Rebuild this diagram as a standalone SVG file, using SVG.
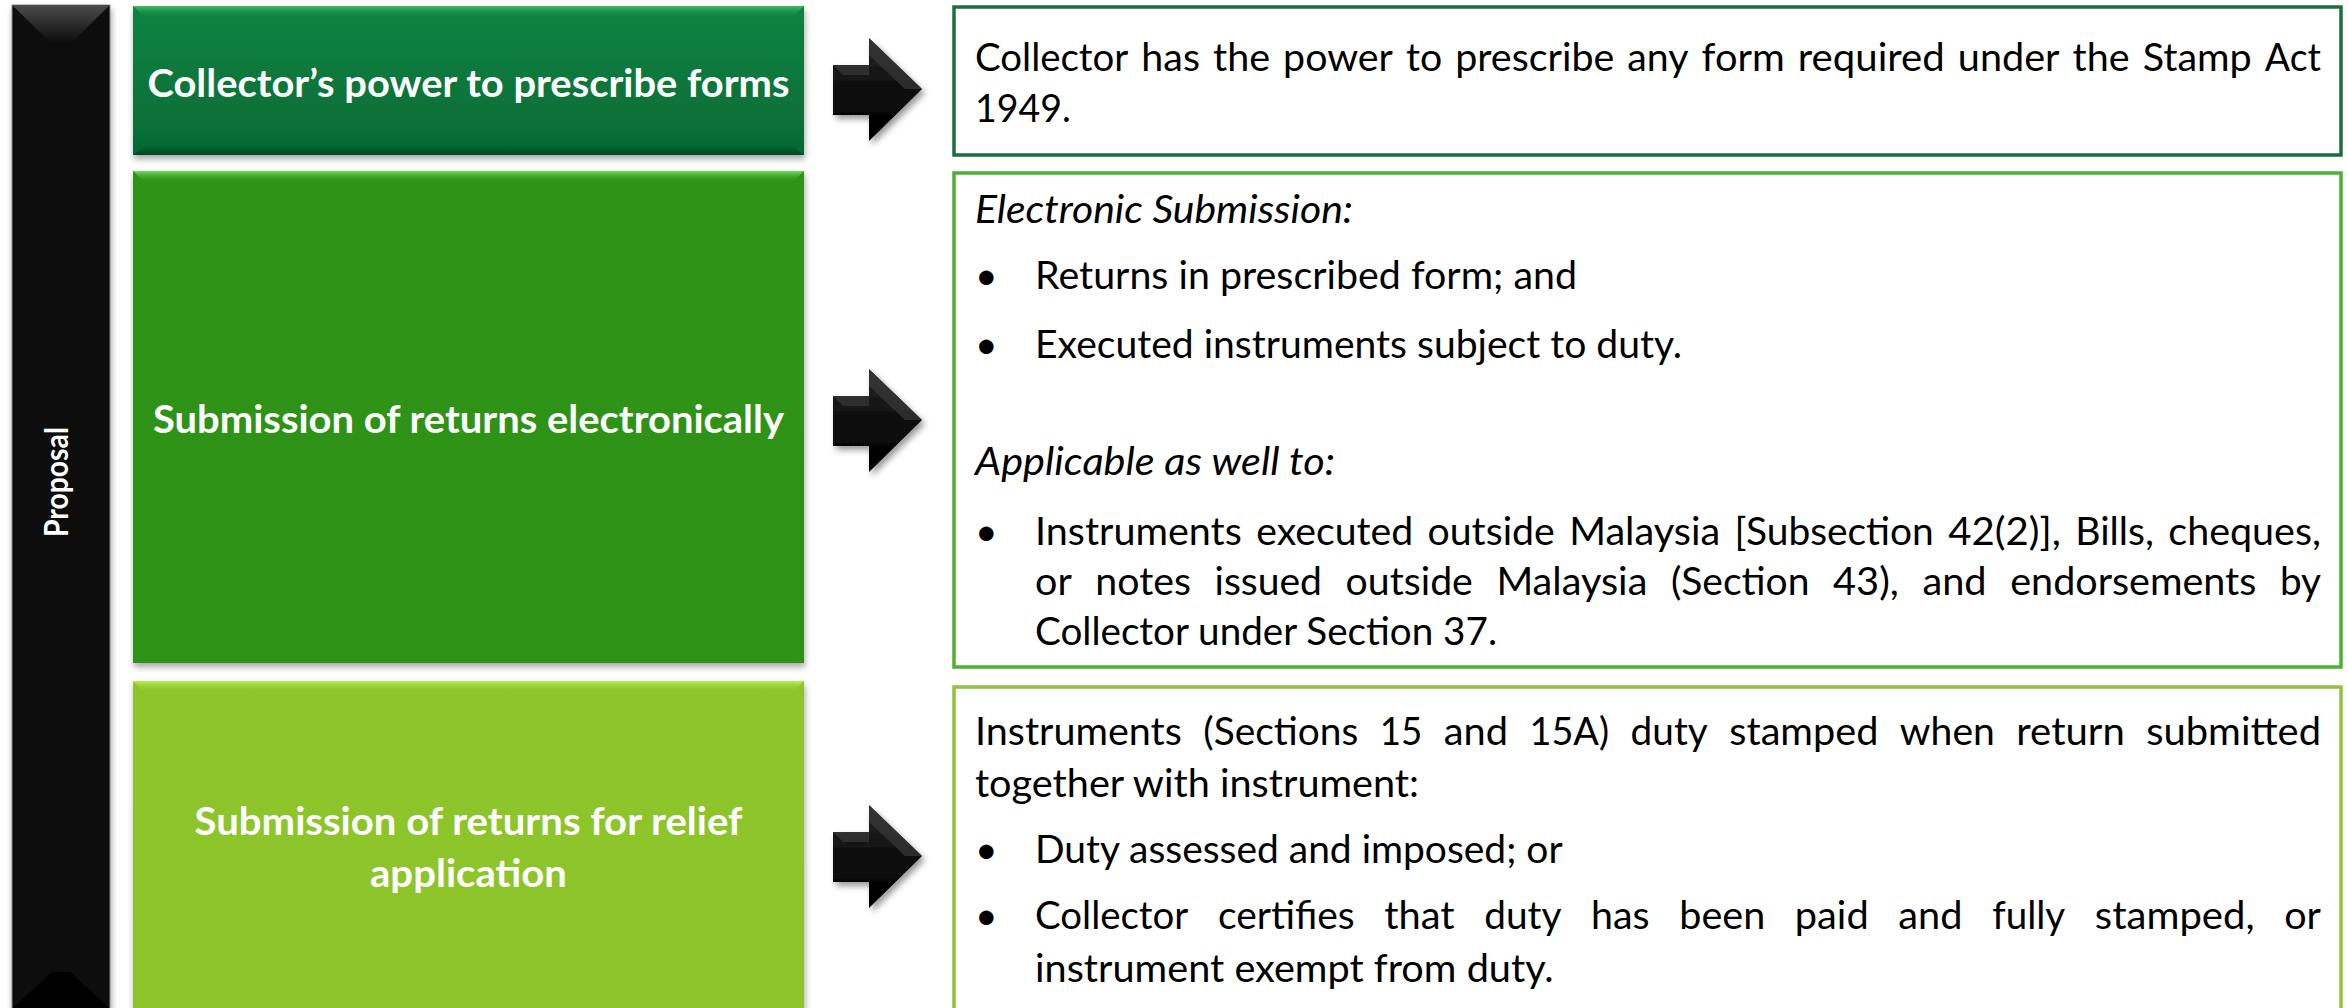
<svg xmlns="http://www.w3.org/2000/svg" width="2348" height="1008" viewBox="0 0 2348 1008">
<defs>
<linearGradient id="g1" x1="0" y1="0" x2="0" y2="1"><stop offset="0" stop-color="#0a8442"/><stop offset="1" stop-color="#066a35"/></linearGradient>
<linearGradient id="g2" x1="0" y1="0" x2="0" y2="1"><stop offset="0" stop-color="#2f9317"/><stop offset="1" stop-color="#2e9216"/></linearGradient>
<linearGradient id="g3" x1="0" y1="0" x2="0" y2="1"><stop offset="0" stop-color="#8ec52c"/><stop offset="1" stop-color="#8cc42a"/></linearGradient>
<linearGradient id="hl1" x1="0" y1="0" x2="0" y2="1"><stop offset="0" stop-color="#3fbf6a"/><stop offset="1" stop-color="#0a8442" stop-opacity="0"/></linearGradient>
<linearGradient id="hl2" x1="0" y1="0" x2="0" y2="1"><stop offset="0" stop-color="#6fe05a"/><stop offset="1" stop-color="#2f9317" stop-opacity="0"/></linearGradient>
<linearGradient id="hl3" x1="0" y1="0" x2="0" y2="1"><stop offset="0" stop-color="#b8ec5a"/><stop offset="1" stop-color="#8ec52c" stop-opacity="0"/></linearGradient>
<linearGradient id="dk" x1="0" y1="0" x2="0" y2="1"><stop offset="0" stop-color="#000" stop-opacity="0"/><stop offset="1" stop-color="#000" stop-opacity="0.35"/></linearGradient>
<linearGradient id="barTop" x1="0" y1="0" x2="0" y2="1"><stop offset="0" stop-color="#4a4a4a"/><stop offset="1" stop-color="#0a0a0a"/></linearGradient>
<linearGradient id="arr" x1="0" y1="0" x2="0" y2="1"><stop offset="0" stop-color="#2a2a2a"/><stop offset="0.5" stop-color="#0c0c0c"/><stop offset="1" stop-color="#000"/></linearGradient>
<filter id="sh" x="-10%" y="-10%" width="120%" height="130%"><feDropShadow dx="1" dy="4" stdDeviation="3" flood-color="#000" flood-opacity="0.35"/></filter>
<filter id="ash" x="-20%" y="-20%" width="150%" height="150%"><feDropShadow dx="3" dy="4" stdDeviation="3" flood-color="#000" flood-opacity="0.4"/></filter>
<path id="arrowShape" d="M0,-24 L36,-24 L36,-51 L89,0 L36,52 L36,26 L0,26 Z"/>
</defs>
<style>
.hd{font-family:Lato,"Open Sans","Liberation Sans",sans-serif;font-weight:bold;font-size:39px;fill:#fff;text-anchor:middle}
.tx{font-family:Lato,"Open Sans","Liberation Sans",sans-serif;font-size:39px;fill:#000}
.it{font-style:italic}
.ob{fill:#fff;stroke-width:3.5}
</style>
<rect width="2348" height="1008" fill="#fff"/>

<g id="proposal-bar">
<rect x="12" y="5" width="98" height="1020" fill="#090909" stroke="#8a8a8a" stroke-width="1" filter="url(#sh)"/>
<polygon points="13,6 109,6 70,44 52,44" fill="url(#barTop)"/>
<polygon points="52,972 70,972 109,1008 13,1008" fill="#000"/>
<text class="hd" transform="translate(68,482) rotate(-90)" style="font-size:33px" textLength="110" lengthAdjust="spacingAndGlyphs">Proposal</text>
</g>

<g id="node-forms">
<rect x="133" y="6" width="671" height="149" fill="url(#g1)" filter="url(#sh)"/>
<polygon points="133,6 804,6 792,18 145,18" fill="url(#hl1)"/>
<polygon points="133,155 804,155 792,145 145,145" fill="url(#dk)"/>
<text class="hd" x="468.5" y="96.7" textLength="642" lengthAdjust="spacingAndGlyphs">Collector’s power to prescribe forms</text>
</g>

<g id="node-electronic">
<rect x="133" y="171" width="671" height="492" fill="url(#g2)" filter="url(#sh)"/>
<polygon points="133,171 804,171 792,183 145,183" fill="url(#hl2)"/>
<text class="hd" x="468.5" y="433.3" textLength="631" lengthAdjust="spacingAndGlyphs">Submission of returns electronically</text>
</g>

<g id="node-relief">
<rect x="133" y="681" width="671" height="340" fill="url(#g3)" filter="url(#sh)"/>
<polygon points="133,681 804,681 792,693 145,693" fill="url(#hl3)"/>
<text class="hd" x="468.5" y="835" textLength="548" lengthAdjust="spacingAndGlyphs">Submission of returns for relief</text>
<text class="hd" x="468.5" y="887" textLength="197" lengthAdjust="spacingAndGlyphs">application</text>
</g>

<g id="connectors">
<g filter="url(#ash)">
<use href="#arrowShape" transform="translate(833,89)" fill="url(#arr)"/>
<use href="#arrowShape" transform="translate(833,420)" fill="url(#arr)"/>
<use href="#arrowShape" transform="translate(833,856)" fill="url(#arr)"/>
</g>
<g fill="#3a3a3a" opacity="0.7">
<polygon points="869,38 922,89 905,89 869,55"/>
<polygon points="869,369 922,420 905,420 869,386"/>
<polygon points="869,805 922,856 905,856 869,822"/>
<polygon points="833,65 869,65 869,75 843,75"/>
<polygon points="833,396 869,396 869,406 843,406"/>
<polygon points="833,832 869,832 869,842 843,842"/>
</g>
</g>

<g id="detail-forms">
<rect class="ob" x="954" y="7" width="1387" height="148" stroke="#1a6f3d"/>
<g class="tx">
<text x="975" y="71" textLength="153.3" lengthAdjust="spacingAndGlyphs">Collector</text>
<text x="1141.36" y="71" textLength="58.59" lengthAdjust="spacingAndGlyphs">has</text>
<text x="1213.02" y="71" textLength="57.04" lengthAdjust="spacingAndGlyphs">the</text>
<text x="1283.12" y="71" textLength="109.79" lengthAdjust="spacingAndGlyphs">power</text>
<text x="1405.97" y="71" textLength="36.2" lengthAdjust="spacingAndGlyphs">to</text>
<text x="1455.24" y="71" textLength="159.05" lengthAdjust="spacingAndGlyphs">prescribe</text>
<text x="1627.35" y="71" textLength="61.19" lengthAdjust="spacingAndGlyphs">any</text>
<text x="1701.62" y="71" textLength="83.16" lengthAdjust="spacingAndGlyphs">form</text>
<text x="1797.84" y="71" textLength="146.92" lengthAdjust="spacingAndGlyphs">required</text>
<text x="1957.82" y="71" textLength="101.72" lengthAdjust="spacingAndGlyphs">under</text>
<text x="2072.61" y="71" textLength="57.04" lengthAdjust="spacingAndGlyphs">the</text>
<text x="2142.7" y="71" textLength="109.07" lengthAdjust="spacingAndGlyphs">Stamp</text>
<text x="2264.85" y="71" textLength="56.15" lengthAdjust="spacingAndGlyphs">Act</text>
<text x="975" y="121.7" textLength="95.8" lengthAdjust="spacingAndGlyphs">1949.</text>
</g>
</g>

<g id="detail-electronic">
<rect class="ob" x="954" y="173" width="1387" height="494" stroke="#4cb133"/>
<g class="tx">
<text class="it" x="975" y="222.7" textLength="378" lengthAdjust="spacingAndGlyphs">Electronic Submission:</text>
<text x="975" y="289.3">•</text>
<text x="1035" y="289.3" textLength="542" lengthAdjust="spacingAndGlyphs">Returns in prescribed form; and</text>
<text x="975" y="358.3">•</text>
<text x="1035" y="358.3" textLength="647" lengthAdjust="spacingAndGlyphs">Executed instruments subject to duty.</text>
<text class="it" x="975" y="475" textLength="360" lengthAdjust="spacingAndGlyphs">Applicable as well to:</text>
<text x="975" y="545">•</text>
<text x="1035" y="545" textLength="206.85" lengthAdjust="spacingAndGlyphs">Instruments</text>
<text x="1256.25" y="545" textLength="156.87" lengthAdjust="spacingAndGlyphs">executed</text>
<text x="1427.52" y="545" textLength="127.26" lengthAdjust="spacingAndGlyphs">outside</text>
<text x="1569.18" y="545" textLength="150.95" lengthAdjust="spacingAndGlyphs">Malaysia</text>
<text x="1734.53" y="545" textLength="199.25" lengthAdjust="spacingAndGlyphs">[Subsection</text>
<text x="1948.18" y="545" textLength="112.73" lengthAdjust="spacingAndGlyphs">42(2)],</text>
<text x="2075.3" y="545" textLength="78.62" lengthAdjust="spacingAndGlyphs">Bills,</text>
<text x="2168.33" y="545" textLength="152.67" lengthAdjust="spacingAndGlyphs">cheques,</text>
<text x="1035" y="595" textLength="36.79" lengthAdjust="spacingAndGlyphs">or</text>
<text x="1095.36" y="595" textLength="95.59" lengthAdjust="spacingAndGlyphs">notes</text>
<text x="1214.52" y="595" textLength="107.48" lengthAdjust="spacingAndGlyphs">issued</text>
<text x="1345.57" y="595" textLength="127.26" lengthAdjust="spacingAndGlyphs">outside</text>
<text x="1496.4" y="595" textLength="150.95" lengthAdjust="spacingAndGlyphs">Malaysia</text>
<text x="1670.92" y="595" textLength="138.56" lengthAdjust="spacingAndGlyphs">(Section</text>
<text x="1833.05" y="595" textLength="65.81" lengthAdjust="spacingAndGlyphs">43),</text>
<text x="1922.43" y="595" textLength="64.22" lengthAdjust="spacingAndGlyphs">and</text>
<text x="2010.22" y="595" textLength="246.16" lengthAdjust="spacingAndGlyphs">endorsements</text>
<text x="2279.95" y="595" textLength="41.08" lengthAdjust="spacingAndGlyphs">by</text>
<text x="1035" y="645" textLength="462" lengthAdjust="spacingAndGlyphs">Collector under Section 37.</text>
</g>
</g>

<g id="detail-relief">
<rect class="ob" x="954" y="687" width="1387" height="340" stroke="#8cc43a"/>
<g class="tx">
<text x="975" y="745" textLength="206.85" lengthAdjust="spacingAndGlyphs">Instruments</text>
<text x="1203.31" y="745" textLength="154.98" lengthAdjust="spacingAndGlyphs">(Sections</text>
<text x="1379.75" y="745" textLength="42.59" lengthAdjust="spacingAndGlyphs">15</text>
<text x="1443.8" y="745" textLength="64.22" lengthAdjust="spacingAndGlyphs">and</text>
<text x="1529.48" y="745" textLength="79.63" lengthAdjust="spacingAndGlyphs">15A)</text>
<text x="1630.57" y="745" textLength="77.2" lengthAdjust="spacingAndGlyphs">duty</text>
<text x="1729.22" y="745" textLength="149.18" lengthAdjust="spacingAndGlyphs">stamped</text>
<text x="1899.87" y="745" textLength="95.05" lengthAdjust="spacingAndGlyphs">when</text>
<text x="2016.37" y="745" textLength="108.4" lengthAdjust="spacingAndGlyphs">return</text>
<text x="2146.24" y="745" textLength="174.8" lengthAdjust="spacingAndGlyphs">submitted</text>
<text x="975" y="796.7" textLength="444" lengthAdjust="spacingAndGlyphs">together with instrument:</text>
<text x="975" y="862.7">•</text>
<text x="1035" y="862.7" textLength="527.6" lengthAdjust="spacingAndGlyphs">Duty assessed and imposed; or</text>
<text x="975" y="929.3">•</text>
<text x="1035" y="929.3" textLength="153.3" lengthAdjust="spacingAndGlyphs">Collector</text>
<text x="1217.92" y="929.3" textLength="136.79" lengthAdjust="spacingAndGlyphs">certifies</text>
<text x="1384.33" y="929.3" textLength="70.31" lengthAdjust="spacingAndGlyphs">that</text>
<text x="1484.26" y="929.3" textLength="77.2" lengthAdjust="spacingAndGlyphs">duty</text>
<text x="1591.08" y="929.3" textLength="58.59" lengthAdjust="spacingAndGlyphs">has</text>
<text x="1679.29" y="929.3" textLength="85.93" lengthAdjust="spacingAndGlyphs">been</text>
<text x="1794.84" y="929.3" textLength="73.84" lengthAdjust="spacingAndGlyphs">paid</text>
<text x="1898.3" y="929.3" textLength="64.22" lengthAdjust="spacingAndGlyphs">and</text>
<text x="1992.13" y="929.3" textLength="73.12" lengthAdjust="spacingAndGlyphs">fully</text>
<text x="2094.88" y="929.3" textLength="159.68" lengthAdjust="spacingAndGlyphs">stamped,</text>
<text x="2284.18" y="929.3" textLength="36.79" lengthAdjust="spacingAndGlyphs">or</text>
<text x="1035" y="981.7" textLength="518.6" lengthAdjust="spacingAndGlyphs">instrument exempt from duty.</text>
</g>
</g>
</svg>
